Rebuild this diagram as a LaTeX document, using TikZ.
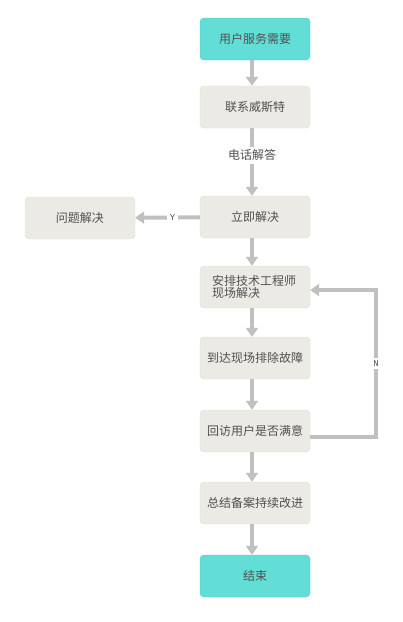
\documentclass[tikz,border=0pt]{standalone}
\usepackage{fontspec}
\setmainfont{Noto Sans CJK SC}
\setmonofont{Liberation Mono}
\usetikzlibrary{arrows.meta}
\definecolor{stepfill}{HTML}{EBEAE5}
\definecolor{stepline}{HTML}{DDDCD8}
\definecolor{endfill}{HTML}{62DED6}
\definecolor{flowline}{HTML}{C0C0C0}
\definecolor{flowtext}{HTML}{505050}
\begin{document}
\begin{tikzpicture}[x=1pt, y=-1pt, >={Triangle[width=12pt,length=9pt]},
    stepbox/.style={draw=stepline, fill=stepfill, rounded corners=4pt,
        minimum width=110pt, minimum height=42pt, text=flowtext,
        font=\fontsize{12}{14}\selectfont},
    endbox/.style={stepbox, draw=endfill!90!black, fill=endfill},
    flow/.style={->, draw=flowline, line width=4pt},
    flowlabel/.style={fill=white, text=flowtext, inner sep=3pt}]
    \useasboundingbox (0,0) rectangle (403,622);

    % Main column of steps
    \node[endbox] (need) at (255,39) {用户服务需要};
    \node[stepbox] (contact) at (255,107) {联系威斯特};
    \node[stepbox] (solve) at (255,217) {立即解决};
    \node[stepbox] (solved) at (80,218) {问题解决};
    \node[stepbox, align=left, text width=86pt] (engineer) at (255,287)
        {安排技术工程师\\[-2pt]现场解决};
    \node[stepbox] (onsite) at (255,358) {到达现场排除故障};
    \node[stepbox] (visit) at (255,431) {回访用户是否满意};
    \node[stepbox] (summary) at (255,503) {总结备案持续改进};
    \node[endbox] (finish) at (255,576) {结束};

    % Connectors down the column
    \draw[flow] ([xshift=-3pt]need.south) -- ([xshift=-3pt]contact.north);
    \draw[flow] ([xshift=-3pt]contact.south) -- node[flowlabel, pos=0.4, font=\fontsize{12}{14}\selectfont] {电话解答} ([xshift=-3pt]solve.north);
    \draw[flow] ([xshift=-3pt]solve.south) -- ([xshift=-3pt]engineer.north);
    \draw[flow] ([xshift=-3pt]engineer.south) -- ([xshift=-3pt]onsite.north);
    \draw[flow] ([xshift=-3pt]onsite.south) -- ([xshift=-3pt]visit.north);
    \draw[flow] ([xshift=-3pt]visit.south) -- ([xshift=-3pt]summary.north);
    \draw[flow] ([xshift=-3pt]summary.south) -- ([xshift=-3pt]finish.north);

    % Side branches
    \draw[flow] (solve) -- node[flowlabel, pos=0.42, font=\ttfamily\small] {Y} (solved);
    \coordinate (loopbot) at (376,437);
    \coordinate (looptop) at (376,290);
    \draw[flow] (visit.east |- loopbot) -- (loopbot)
        -- node[flowlabel, font=\ttfamily\small] {N} (looptop)
        -- (engineer.east |- looptop);
\end{tikzpicture}
\end{document}
